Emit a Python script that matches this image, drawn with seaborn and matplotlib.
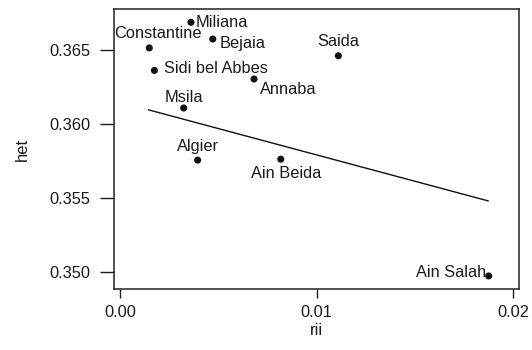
import matplotlib
matplotlib.use("Agg")
import matplotlib.pyplot as plt
import seaborn as sns
import pandas as pd

# data
towns = ["Constantine", "Miliana", "Bejaia", "Saida", "Sidi bel Abbes",
         "Annaba", "Msila", "Algier", "Ain Beida", "Ain Salah"]
rii = [0.00149, 0.00361, 0.00472, 0.01111, 0.00175,
       0.00682, 0.00324, 0.00395, 0.00818, 0.01876]
het = [0.36512, 0.36685, 0.36572, 0.36459, 0.36360,
       0.36302, 0.36106, 0.35754, 0.35760, 0.34971]
fit_rii = [0.00144, 0.01874]
fit_het = [0.36094, 0.35478]
x_ticks = [0.0, 0.01, 0.02]
x_ticklabels = ["0.00", "0.01", "0.02"]
y_ticks = [0.350, 0.355, 0.360, 0.365]
y_ticklabels = ["0.350", "0.355", "0.360", "0.365"]

# label placement (style only): offset in pixels, horizontal alignment
label_style = {
    "Constantine": (9, 14, "center"),
    "Miliana": (5, 0, "left"),
    "Bejaia": (7, -4, "left"),
    "Saida": (0, 14, "center"),
    "Sidi bel Abbes": (10, 2, "left"),
    "Annaba": (6, -11, "left"),
    "Msila": (0, 11, "center"),
    "Algier": (0, 14, "center"),
    "Ain Beida": (5, -14, "center"),
    "Ain Salah": (-2, 3, "right"),
}

sns.set_style("ticks")
plt.rcParams["font.family"] = ["Liberation Sans", "DejaVu Sans"]
TXT = "#1a1a1a"
FS = 11.8

df = pd.DataFrame({"town": towns, "rii": rii, "het": het})
fit = pd.DataFrame({"rii": fit_rii, "het": fit_het})

fig = plt.figure(figsize=(5.32, 3.5), dpi=100)
ax = fig.add_subplot(111)
fig.subplots_adjust(left=114/532, right=519/532, top=1-9/350, bottom=1-289/350)

sns.lineplot(data=fit, x="rii", y="het", ax=ax, color="#111111", linewidth=1.0)
sns.scatterplot(data=df, x="rii", y="het", ax=ax, color="#111111", s=26,
                edgecolor="none", zorder=3)

for t, x, y in zip(towns, rii, het):
    dx, dy, ha = label_style[t]
    ax.annotate(t, (x, y), xytext=(dx, dy), textcoords="offset pixels",
                ha=ha, va="center", fontsize=FS, color=TXT)

ax.set_xlim(-0.000305, 0.0203)
ax.set_ylim(0.34883, 0.36775)
ax.set_xticks(x_ticks)
ax.set_xticklabels(x_ticklabels)
ax.set_yticks(y_ticks)
ax.set_yticklabels(y_ticklabels)
ax.tick_params(axis="y", length=10, width=1, pad=7, labelsize=FS, colors=TXT)
ax.tick_params(axis="x", length=6.5, width=1, pad=5, labelsize=FS, colors=TXT)
ax.set_xlabel("rii", fontsize=12, color=TXT, labelpad=2)
ax.set_ylabel("het", fontsize=12, color=TXT, labelpad=14)
for sp in ax.spines.values():
    sp.set_visible(True)
    sp.set_linewidth(1.1)
    sp.set_color("#222222")

fig.savefig("out.png", dpi=100)
